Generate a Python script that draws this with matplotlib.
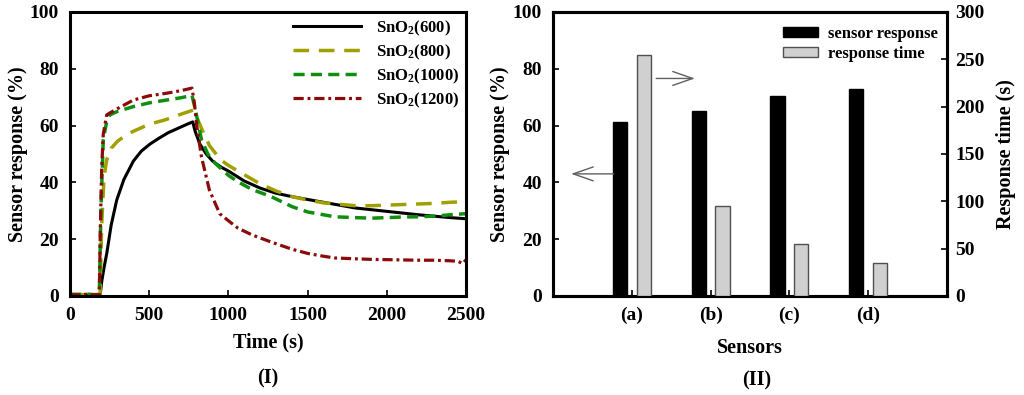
import matplotlib
matplotlib.use("Agg")
import matplotlib.pyplot as plt
from matplotlib.patches import Patch

plt.rcParams['font.family'] = ['Liberation Serif', 'DejaVu Serif']
plt.rcParams['font.weight'] = 'bold'
plt.rcParams['mathtext.fontset'] = 'custom'
plt.rcParams['mathtext.rm'] = 'Liberation Serif:bold'
plt.rcParams['mathtext.bf'] = 'Liberation Serif:bold'
plt.rcParams['mathtext.default'] = 'bf'

# ---------------- Data: panel (I) ----------------
t600 = [0, 50, 100, 150, 190, 200, 215, 232, 260, 295, 340, 400, 450, 505, 560, 620, 680, 740, 775,
        790, 820, 860, 900, 950, 1000, 1100, 1200, 1300, 1400, 1500, 1600, 1700, 1800, 1900, 2000,
        2100, 2200, 2300, 2400, 2500]
v600 = [0.3, 0.4, 0.3, 0.2, 0.2, 5, 10, 15, 25, 33.8, 41, 47.5, 51, 53.5, 55.5, 57.5, 59, 60.5, 61.3,
        58, 53.5, 50, 47.5, 45.5, 44, 40.5, 38, 36.2, 35, 34, 33, 32, 31, 30.4, 29.8,
        29.2, 28.6, 28.1, 27.6, 27.2]

t800 = [0, 50, 100, 150, 190, 200, 215, 232, 260, 300, 350, 400, 500, 600, 700, 780,
        800, 830, 880, 950, 1000, 1060, 1200, 1300, 1400, 1500, 1600, 1700, 1800, 1900, 2000,
        2100, 2200, 2300, 2400, 2500]
v800 = [0.5, 0.6, 0.4, 0.5, 0.5, 25, 42, 48, 52, 54.5, 56.5, 58, 60.5, 62, 64, 65.5,
        63, 59, 53, 48, 46, 44, 39.5, 37, 35, 33.8, 32.8, 32.3, 31.8, 31.8, 32,
        32.2, 32.4, 32.6, 33, 33.2]

t1000 = [0, 50, 100, 150, 185, 195, 210, 230, 252, 300, 400, 500, 610, 700, 770,
         790, 830, 870, 915, 1000, 1060, 1150, 1270, 1400, 1500, 1600, 1670, 1800, 1900, 2000,
         2100, 2200, 2300, 2400, 2500]
v1000 = [0.6, 0.5, 0.7, 0.5, 0.5, 30, 55, 61, 63.8, 65, 66.7, 68, 69, 69.8, 70.6,
         66, 55, 50, 46.8, 42.5, 40.2, 37.5, 35, 31.5, 29.6, 28.6, 27.9, 27.6, 27.4, 27.6,
         27.8, 27.9, 28.1, 28.6, 29]

t1200 = [0, 50, 100, 150, 185, 192, 200, 210, 232, 300, 400, 500, 610, 700, 770,
         785, 800, 830, 880, 945, 1000, 1060, 1150, 1270, 1400, 1500, 1600, 1670, 1800, 1900,
         2000, 2100, 2200, 2300, 2400, 2450, 2480, 2500]
v1200 = [0.5, 0.4, 0.6, 0.4, 0.4, 25, 45, 57, 63.8, 66, 69, 70.5, 71.4, 72.3, 73.2,
         68, 60, 49, 37.3, 29, 26.5, 23.9, 21.5, 19, 16.5, 15, 14, 13.4, 13.1, 12.9,
         12.8, 12.7, 12.6, 12.6, 12.4, 12.2, 11.4, 12.8]

labels_I = [r'SnO$_2$(600)', r'SnO$_2$(800)', r'SnO$_2$(1000)', r'SnO$_2$(1200)']

# ---------------- Data: panel (II) ----------------
sensors = ['(a)', '(b)', '(c)', '(d)']
sensor_response = [61.3, 65.3, 70.4, 73.0]
response_time = [255, 95, 55, 35]

fig = plt.figure(figsize=(10.24, 3.95), dpi=100)
fs_tick = 14
fs_lab = 14.5
fs_leg = 12

# ---------------- Panel I ----------------
ax1 = fig.add_axes([70/1024, 1-296/395, 396/1024, 284/395])
ax1.plot(t600, v600, color='black', lw=2.2, label=labels_I[0])
ax1.plot(t800, v800, color='#a0a000', lw=2.5, dashes=(4.5, 2.8), label=labels_I[1])
ax1.plot(t1000, v1000, color='#0f8f0f', lw=2.5, dashes=(3.2, 1.8), label=labels_I[2])
ax1.plot(t1200, v1200, color='#8b0a0a', lw=2.3, dashes=(3.2, 1.2, 0.9, 1.2), label=labels_I[3])
ax1.set_xlim(0, 2500)
ax1.set_ylim(0, 100)
ax1.set_xticks([0, 500, 1000, 1500, 2000, 2500])
ax1.set_yticks([0, 20, 40, 60, 80, 100])
ax1.set_xlabel('Time (s)', fontsize=fs_lab, fontweight='bold', labelpad=6)
ax1.set_ylabel('Sensor response (%)', fontsize=fs_lab, fontweight='bold', labelpad=1)
ax1.tick_params(direction='in', length=4, width=1.2, labelsize=fs_tick, pad=8)
for s in ax1.spines.values():
    s.set_linewidth(2.2)
leg1 = ax1.legend(loc='upper right', frameon=False, fontsize=fs_leg, handlelength=4.1,
                  handletextpad=0.9, labelspacing=0.28, borderaxespad=0.0,
                  bbox_to_anchor=(1.0, 1.0))
fig.text(268/1024, 1-378/395, '(I)', ha='center', va='center', fontsize=fs_lab, fontweight='bold')

# ---------------- Panel II ----------------
ax2 = fig.add_axes([553/1024, 1-296/395, 394/1024, 284/395])
ax3 = ax2.twinx()
xpos = [1, 2, 3, 4]
w = 0.18
off = 0.15
ax2.bar([x - off for x in xpos], sensor_response, width=w, color='black', edgecolor='black', lw=1,
        zorder=3)
ax3.bar([x + off for x in xpos], response_time, width=w, color='#d0d0d0', edgecolor='#505050', lw=1,
        zorder=3)
ax2.set_xlim(0, 5)
ax2.set_ylim(0, 100)
ax3.set_ylim(0, 300)
ax2.set_xticks(xpos)
ax2.set_xticklabels(sensors)
ax2.set_yticks([0, 20, 40, 60, 80, 100])
ax3.set_yticks([0, 50, 100, 150, 200, 250, 300])
ax2.set_xlabel('Sensors', fontsize=fs_lab, fontweight='bold', labelpad=10)
ax2.set_ylabel('Sensor response (%)', fontsize=fs_lab, fontweight='bold', labelpad=2)
ax3.set_ylabel('Response time (s)', fontsize=fs_lab, fontweight='bold', labelpad=8)
ax2.tick_params(direction='in', length=4, width=1.2, labelsize=fs_tick, pad=8)
ax3.tick_params(direction='in', length=4, width=1.2, labelsize=fs_tick, pad=6)
for s in list(ax2.spines.values()) + list(ax3.spines.values()):
    s.set_linewidth(2.2)

arrow_kw = dict(arrowstyle='->,head_length=0.72,head_width=0.25', mutation_scale=20,
                color='#606060', lw=1.0, shrinkA=0, shrinkB=0)
ax2.annotate('', xy=(0.23, 43), xytext=(0.77, 43), arrowprops=arrow_kw)
ax2.annotate('', xy=(1.80, 76.6), xytext=(1.31, 76.6), arrowprops=arrow_kw)

handles = [Patch(facecolor='black', edgecolor='black', label='sensor response'),
           Patch(facecolor='#d0d0d0', edgecolor='#505050', label='response time')]
ax2.legend(handles=handles, loc='upper right', frameon=False, fontsize=fs_leg,
           handlelength=2.1, handleheight=0.6, handletextpad=0.6, labelspacing=0.25,
           borderaxespad=0.0, bbox_to_anchor=(0.995, 0.975))
fig.text(757/1024, 1-380/395, '(II)', ha='center', va='center', fontsize=fs_lab, fontweight='bold')

fig.savefig('out.png', dpi=100)
